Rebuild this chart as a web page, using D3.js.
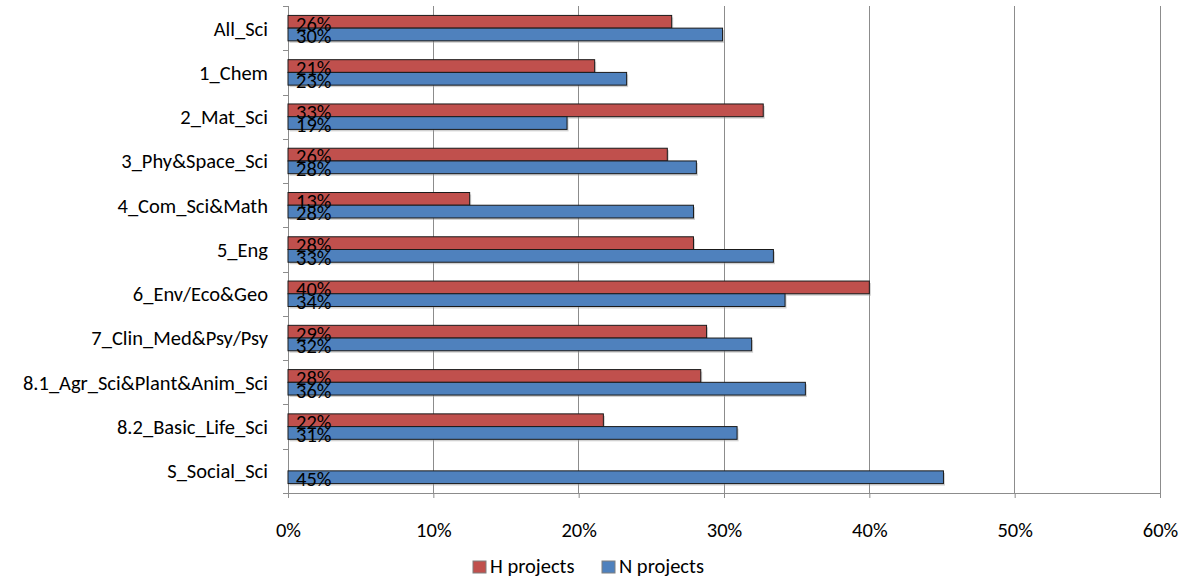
<!DOCTYPE html>
<html><head><meta charset="utf-8">
<script src="https://cdnjs.cloudflare.com/ajax/libs/d3/7.8.5/d3.min.js"></script>
<style>
html,body{margin:0;padding:0;background:#fff;}
svg{display:block;}
text{font-family:Carlito,Lato,"Open Sans",sans-serif;fill:#000;}
</style></head>
<body><svg id="c" width="1189" height="580"></svg>
<script>
const categories = ["All_Sci","1_Chem","2_Mat_Sci","3_Phy&Space_Sci","4_Com_Sci&Math","5_Eng","6_Env/Eco&Geo","7_Clin_Med&Psy/Psy","8.1_Agr_Sci&Plant&Anim_Sci","8.2_Basic_Life_Sci","S_Social_Sci"];
const hProjects = [0.264,0.211,0.327,0.261,0.125,0.279,0.400,0.288,0.284,0.217,null];
const nProjects = [0.299,0.233,0.192,0.281,0.279,0.334,0.342,0.319,0.356,0.309,0.451];
const seriesNames = ["H projects","N projects"];
const seriesColors = ["#C0504D","#4F81BD"];
const xTicks = [0,0.1,0.2,0.3,0.4,0.5,0.6];

const FS = "20.5px";
const svg = d3.select("#c");
const L=288,R=1160,T=6,B=493;
const x = d3.scaleLinear().domain([0,0.6]).range([L,R]);
const y = d3.scaleBand().domain(categories).range([T,B]).padding(0);
const inner = d3.scaleBand().domain(seriesNames).range([0,y.bandwidth()]).paddingInner(0).paddingOuter(0.74);

// gridlines
svg.append("g").selectAll("line").data(xTicks.slice(1)).join("line")
  .attr("x1",d=>x(d)).attr("x2",d=>x(d)).attr("y1",T).attr("y2",B)
  .attr("stroke","#8c8c8c").attr("stroke-width",1).attr("shape-rendering","crispEdges");

// x axis
const xAxis = d3.axisBottom(x).tickValues(xTicks).tickFormat(d3.format(".0%")).tickSize(5).tickPadding(24);
const gx = svg.append("g").attr("transform",`translate(0,${B})`).call(xAxis);
gx.select(".domain").attr("stroke","#8c8c8c").attr("d",`M${L-5},0.5H${R}`);
gx.selectAll(".tick line").attr("stroke","#8c8c8c");
gx.selectAll("text").style("font-size",FS).attr("fill","#000");

// y axis
const gy = svg.append("g").attr("transform",`translate(${L},0)`);
gy.append("line").attr("x1",0.5).attr("x2",0.5).attr("y1",T).attr("y2",B).attr("stroke","#8c8c8c");
const bounds = categories.map(c=>y(c));
gy.selectAll("line.t").data(bounds).join("line").attr("class","t")
  .attr("x1",-5).attr("x2",0).attr("y1",d=>Math.round(d)+0.5).attr("y2",d=>Math.round(d)+0.5).attr("stroke","#8c8c8c");
gy.selectAll("text").data(categories).join("text")
  .attr("x",-20).attr("y",d=>y(d)+y.bandwidth()/2+2.5).attr("text-anchor","end")
  .attr("dominant-baseline","middle").style("font-size",FS).text(d=>d);

// bars
const data = [];
categories.forEach((c,i)=>{
  [hProjects[i],nProjects[i]].forEach((v,j)=>{ if(v!=null) data.push({c,s:seriesNames[j],v,col:seriesColors[j]}); });
});
const gb = svg.append("g");
gb.selectAll("rect.sh").data(data).join("rect").attr("class","sh")
  .attr("x",x(0)+1.5).attr("y",d=>y(d.c)+inner(d.s)+2)
  .attr("width",d=>x(d.v)-x(0)).attr("height",inner.bandwidth())
  .attr("fill","#999").attr("opacity",0.45);
gb.selectAll("rect.b").data(data).join("rect").attr("class","b")
  .attr("x",x(0)).attr("y",d=>y(d.c)+inner(d.s))
  .attr("width",d=>x(d.v)-x(0)).attr("height",inner.bandwidth())
  .attr("fill",d=>d.col).attr("stroke","#1a1a1a").attr("stroke-width",1);
gb.selectAll("text").data(data).join("text")
  .attr("x",x(0)+8).attr("y",d=>y(d.c)+inner(d.s)+inner.bandwidth()/2+4)
  .attr("dominant-baseline","middle").style("font-size",FS)
  .text(d=>d3.format(".0%")(d.v));

// legend
const lg = svg.append("g");
const legX=[473,602];
seriesNames.forEach((s,i)=>{
  lg.append("rect").attr("x",legX[i]).attr("y",561).attr("width",13).attr("height",12)
    .attr("fill",seriesColors[i]).attr("stroke","#7f7f7f").attr("stroke-width",1);
  lg.append("text").attr("x",legX[i]+17).attr("y",568).attr("dominant-baseline","middle")
    .style("font-size",FS).text(s);
});
</script></body></html>
